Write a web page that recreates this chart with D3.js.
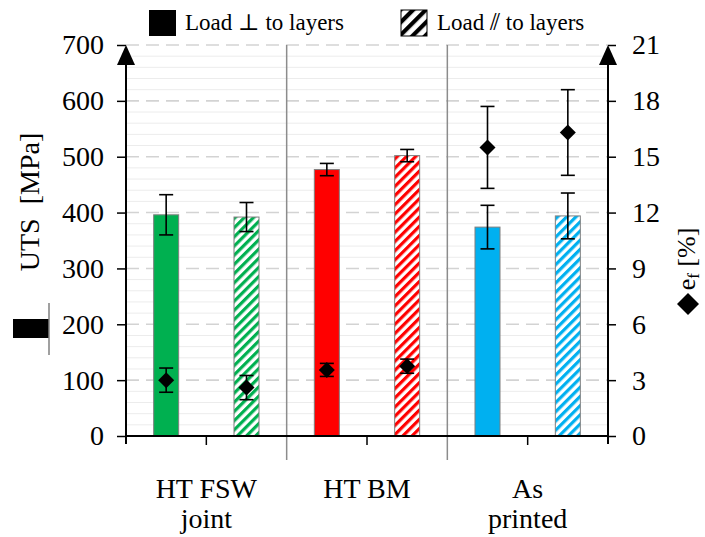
<!DOCTYPE html>
<html><head><meta charset="utf-8">
<script src="https://cdn.jsdelivr.net/npm/d3@7"></script>
<style>
body{margin:0;background:#fff;}
</style></head>
<body><svg id="c" width="705" height="537"></svg>
<script>
// ---- data ----
const categories = ["HT FSW joint", "HT BM", "As printed"];
const categoryLines = [["HT FSW", "joint"], ["HT BM"], ["As", "printed"]];
const colors = ["#00b050", "#ff0000", "#00b0f0"];
const utsPerp = [396, 477, 374];
const utsPerpErr = [36, 11, 39];
const utsPar = [392, 502, 394];
const utsParErr = [26, 11, 41];
const efPerp = [3.0, 3.55, 15.5];
const efPerpErr = [0.65, 0.35, 2.2];
const efPar = [2.6, 3.75, 16.3];
const efParErr = [0.65, 0.38, 2.3];
const leftTicks = [0, 100, 200, 300, 400, 500, 600, 700];
const rightTicks = [0, 3, 6, 9, 12, 15, 18, 21];
const loads = ["perp", "par"];
const legendLabels = ["Load \u22A5 to layers", "Load \u2AFD to layers"];

const FONT = "'Liberation Serif', 'Times New Roman', Tinos, 'DejaVu Serif', serif";
const svg = d3.select("#c");
const X0 = 126, X1 = 608, Y0 = 436, Y1 = 45;
const x = d3.scaleBand().domain(categories).range([X0, X1]);
const xi = d3.scalePoint().domain(loads).range([0, x.bandwidth()]).padding(0.5);
const y = d3.scaleLinear().domain([0, 700]).range([Y0, Y1]);
const y2 = d3.scaleLinear().domain([0, 21]).range([Y0, Y1]);
const barW = 25;

// patterns
const defs = svg.append("defs");
colors.forEach((c, i) => {
  const p = defs.append("pattern").attr("id", "h" + i).attr("patternUnits", "userSpaceOnUse")
    .attr("width", 6.5).attr("height", 6.5).attr("patternTransform", "rotate(45)");
  p.append("rect").attr("width", 6.5).attr("height", 6.5).attr("fill", "#fff");
  p.append("rect").attr("width", 3.2).attr("height", 6.5).attr("fill", c);
});
const lp = defs.append("pattern").attr("id", "hl").attr("patternUnits", "userSpaceOnUse")
  .attr("width", 9).attr("height", 9).attr("patternTransform", "rotate(45)");
lp.append("rect").attr("width", 9).attr("height", 9).attr("fill", "#fff");
lp.append("rect").attr("width", 4.2).attr("height", 9).attr("fill", "#000");

// minor grid
const minor = d3.range(0, 701, 20).filter(v => v % 100 !== 0);
svg.append("g").selectAll("line").data(minor).join("line")
  .attr("x1", X0).attr("x2", X1).attr("y1", d => y(d)).attr("y2", d => y(d))
  .attr("stroke", "#ececec").attr("stroke-width", 1);
// major grid
svg.append("g").selectAll("line").data(leftTicks.filter(v => v > 0)).join("line")
  .attr("x1", X0).attr("x2", X1).attr("y1", d => y(d)).attr("y2", d => y(d))
  .attr("stroke", "#d3d3d3").attr("stroke-width", 1.6).attr("stroke-dasharray", "13,7");

// dividers
svg.append("g").selectAll("line").data(categories.slice(1)).join("line")
  .attr("x1", d => x(d)).attr("x2", d => x(d)).attr("y1", Y1).attr("y2", 460)
  .attr("stroke", "#8c8c8c").attr("stroke-width", 1.5);

// bars
const bars = [];
categories.forEach((c, i) => {
  bars.push({c, i, load: "perp", v: utsPerp[i], e: utsPerpErr[i], ef: efPerp[i], efe: efPerpErr[i], fill: colors[i]});
  bars.push({c, i, load: "par", v: utsPar[i], e: utsParErr[i], ef: efPar[i], efe: efParErr[i], fill: "url(#h" + i + ")"});
});
const cx = d => x(d.c) + xi(d.load);
svg.append("g").selectAll("rect").data(bars).join("rect")
  .attr("x", d => cx(d) - barW / 2).attr("width", barW)
  .attr("y", d => y(d.v)).attr("height", d => y(0) - y(d.v))
  .attr("fill", d => d.fill).attr("stroke", "#7f7f7f").attr("stroke-width", 1);

function errBars(g, data, cxF, lo, hi, cap) {
  const e = g.append("g").attr("stroke", "#000").attr("stroke-width", 1.6);
  e.selectAll(".v").data(data).join("line").attr("x1", cxF).attr("x2", cxF).attr("y1", lo).attr("y2", hi);
  e.selectAll(".t").data(data).join("line").attr("x1", d => cxF(d) - cap).attr("x2", d => cxF(d) + cap).attr("y1", hi).attr("y2", hi);
  e.selectAll(".b").data(data).join("line").attr("x1", d => cxF(d) - cap).attr("x2", d => cxF(d) + cap).attr("y1", lo).attr("y2", lo);
}
errBars(svg, bars, cx, d => y(d.v - d.e), d => y(d.v + d.e), 7);
errBars(svg, bars, cx, d => y2(d.ef - d.efe), d => y2(d.ef + d.efe), 7);
const dia = (px, py, r) => `M${px},${py - r}L${px + r},${py}L${px},${py + r}L${px - r},${py}Z`;
svg.append("g").selectAll("path").data(bars).join("path")
  .attr("d", d => dia(cx(d), y2(d.ef), 8)).attr("fill", "#000");

// x axis
svg.append("line").attr("x1", X0).attr("x2", X1).attr("y1", Y0).attr("y2", Y0).attr("stroke", "#000").attr("stroke-width", 1.8);
svg.append("g").selectAll("line").data(categories).join("line")
  .attr("x1", d => x(d) + x.bandwidth() / 2).attr("x2", d => x(d) + x.bandwidth() / 2)
  .attr("y1", Y0).attr("y2", Y0 + 9).attr("stroke", "#000").attr("stroke-width", 1.5);

// left axis
const la = svg.append("g").attr("transform", `translate(${X0},0)`)
  .call(d3.axisLeft(y).tickValues(leftTicks).tickSize(9).tickSizeOuter(0).tickPadding(13));
la.select(".domain").remove();
la.attr("font-family", null).attr("font-size", null);
la.selectAll(".tick line").attr("stroke", "#000").attr("stroke-width", 1.5);
la.selectAll(".tick text").attr("font-size", 28).attr("fill", "#000");
svg.append("line").attr("x1", X0).attr("x2", X0).attr("y1", Y1 + 8).attr("y2", Y0 + 8).attr("stroke", "#000").attr("stroke-width", 2);
svg.append("path").attr("d", `M${X0},${Y1}L${X0 + 9},${Y1 + 20}L${X0 - 9},${Y1 + 20}Z`).attr("fill", "#000");

// right axis
const ra = svg.append("g").attr("transform", `translate(${X1},0)`)
  .call(d3.axisRight(y2).tickValues(rightTicks).tickSize(8).tickSizeOuter(0).tickPadding(16));
ra.select(".domain").remove();
ra.attr("font-family", null).attr("font-size", null);
ra.selectAll(".tick line").attr("stroke", "#000").attr("stroke-width", 1.5);
ra.selectAll(".tick text").attr("font-size", 28).attr("fill", "#000");
svg.append("line").attr("x1", X1).attr("x2", X1).attr("y1", Y1 + 8).attr("y2", Y0 + 8).attr("stroke", "#000").attr("stroke-width", 2);
svg.append("path").attr("d", `M${X1},${Y1}L${X1 + 9},${Y1 + 20}L${X1 - 9},${Y1 + 20}Z`).attr("fill", "#000");

// category labels
categories.forEach((c, i) => {
  const t = svg.append("text").attr("text-anchor", "middle").attr("font-size", 28)
    .attr("x", x(c) + x.bandwidth() / 2).attr("y", 498);
  categoryLines[i].forEach((ln, j) => t.append("tspan").attr("x", x(c) + x.bandwidth() / 2).attr("dy", j ? 30 : 0).text(ln));
});

// left y label
svg.append("text").attr("transform", "translate(39,202) rotate(-90)").attr("text-anchor", "middle")
  .attr("font-size", 28).text("UTS\u00A0 [MPa]");
svg.append("rect").attr("x", 13).attr("y", 319).attr("width", 36).attr("height", 19).attr("fill", "#000");
svg.append("line").attr("x1", 49).attr("x2", 49).attr("y1", 303).attr("y2", 355).attr("stroke", "#808080").attr("stroke-width", 1.5);

// right y label
const rl = svg.append("text").attr("transform", "translate(695,259) rotate(-90)").attr("text-anchor", "middle").attr("font-size", 26);
rl.append("tspan").text("e");
rl.append("tspan").attr("font-size", 17).attr("dy", 4).text("f");
rl.append("tspan").attr("dy", -4).text(" [%]");
svg.append("path").attr("d", dia(688, 304, 11)).attr("fill", "#000");

// legend
svg.append("rect").attr("x", 149).attr("y", 10).attr("width", 27).attr("height", 26).attr("fill", "#000");
svg.append("text").attr("x", 185).attr("y", 30).attr("font-size", 23).text(legendLabels[0]);
svg.append("rect").attr("x", 401).attr("y", 10).attr("width", 26).attr("height", 26).attr("fill", "url(#hl)").attr("stroke", "#000").attr("stroke-width", 1);
svg.append("text").attr("x", 437).attr("y", 30).attr("font-size", 23).text(legendLabels[1]);

svg.selectAll("text").attr("font-family", FONT).attr("fill", "#000");
</script></body></html>
